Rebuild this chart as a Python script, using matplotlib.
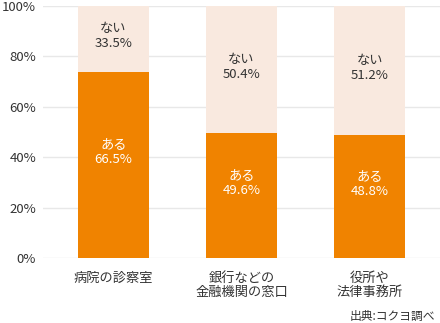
import matplotlib
matplotlib.use("Agg")
import matplotlib.pyplot as plt

plt.rcParams['font.family'] = ['Noto Sans CJK JP', 'DejaVu Sans']

# データ
categories = ['病院の診察室', '銀行などの\n金融機関の窓口', '役所や\n法律事務所']
aru_height = [73.9, 49.6, 48.8]   # 図で描かれている棒の高さ
aru_labels = ['66.5%', '49.6%', '48.8%']
nai_labels = ['33.5%', '50.4%', '51.2%']
yticks = [0, 20, 40, 60, 80, 100]

orange = '#f08300'
peach = '#f9e9df'
txt = '#333333'

fig = plt.figure(figsize=(4.40, 3.23), dpi=100)
ax = fig.add_axes([43/440, 1 - 258/323, 397/440, 252/323])

x = range(len(categories))
nai_height = [100 - v for v in aru_height]
ax.bar(x, aru_height, width=0.55, color=orange, zorder=2)
ax.bar(x, nai_height, width=0.55, bottom=aru_height, color=peach, zorder=2)

for i in x:
    ax.text(i, aru_height[i] / 2 + 5, 'ある\n' + aru_labels[i], ha='center', va='center',
            color='white', fontsize=9.5, linespacing=1.2)
    ax.text(i, aru_height[i] + nai_height[i] / 2 + 1, 'ない\n' + nai_labels[i], ha='center',
            va='center', color=txt, fontsize=9.5, linespacing=1.2)

ax.set_xlim(-0.55, 2.55)
ax.set_ylim(0, 100)
ax.set_yticks(yticks)
ax.set_yticklabels([f'{v}%' for v in yticks])
ax.set_xticks(list(x))
ax.set_xticklabels(categories, linespacing=1.15)
ax.tick_params(axis='both', length=0, labelsize=9.5, colors=txt)
ax.tick_params(axis='y', pad=5)
ax.tick_params(axis='x', pad=10)
for s in ax.spines.values():
    s.set_visible(False)
ax.grid(axis='y', color='#e8e8e8', linewidth=1, zorder=0)
ax.set_axisbelow(True)

fig.text(435/440, 1 - 316/323, '出典:コクヨ調べ', ha='right', va='center',
         fontsize=8.5, color=txt)

fig.savefig('out.png', dpi=100)
